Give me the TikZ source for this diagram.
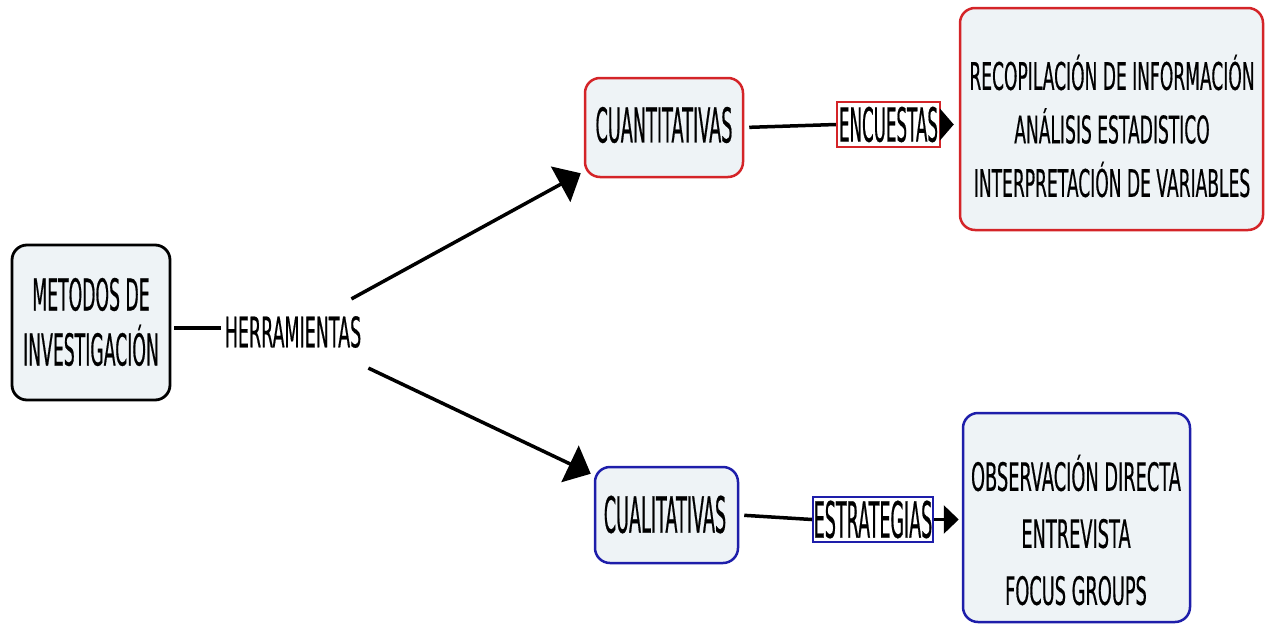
\documentclass[tikz,border=0pt]{standalone}
\usepackage{fontspec}
\setmainfont{DejaVu Sans}
\usetikzlibrary{arrows.meta}

\definecolor{boxfill}{RGB}{238,243,246}
\definecolor{mapred}{RGB}{212,36,40}
\definecolor{mapblue}{RGB}{30,30,170}

% condensed DejaVu Sans: #1 stretch, #2 size, #3 line spacing
\newcommand{\cond}[3]{\fontspec{DejaVu Sans}[FakeStretch=#1,FakeBold=0.4]\fontsize{#2}{#3}\selectfont}

\tikzset{
  box/.style={draw, rounded corners=15pt, fill=boxfill, line width=2.5pt, inner sep=0pt},
  tagbox/.style={draw, line width=2.2pt, fill=white, inner sep=0pt},
  txt/.style={align=center, inner sep=0pt},
  conn/.style={line width=3.5pt},
  bigtip/.style={-{Triangle[length=23pt,width=40pt]}},
}

\begin{document}
\begin{tikzpicture}[x=1pt,y=-1pt]
\useasboundingbox (0,0) rectangle (1265,632);

% boxes
\node[box, draw=black, line width=2.8pt, minimum width=158pt, minimum height=155pt] (metodos) at (91,322.5) {};
\node[box, draw=mapred, minimum width=158pt, minimum height=99pt] (cuanti) at (664,127.5) {};
\node[box, draw=mapblue, minimum width=143pt, minimum height=96pt] (cuali) at (666.5,515) {};
\node[box, draw=mapred, minimum width=303pt, minimum height=222pt] (rbox) at (1111.5,119) {};
\node[box, draw=mapblue, minimum width=227pt, minimum height=209pt] (bbox) at (1076.5,517.5) {};

% box texts
\node[txt, font=\cond{0.392}{44}{55}] (metodostxt) at (91,322) {METODOS DE\\INVESTIGACIÓN};
\node[txt, font=\cond{0.368}{48}{54}] (cuantitxt) at (664,125) {CUANTITATIVAS};
\node[txt, font=\cond{0.352}{50}{54}] (cualitxt) at (665,514.5) {CUALITATIVAS};
\node[txt, font=\cond{0.45}{38}{53.5}] (rtxt) at (1112,126)
  {RECOPILACIÓN DE INFORMACIÓN\\ANÁLISIS ESTADISTICO\\INTERPRETACIÓN DE VARIABLES};
\node[txt, font=\cond{0.456}{39}{57}] (btxt) at (1076,530)
  {OBSERVACIÓN DIRECTA\\ENTREVISTA\\FOCUS GROUPS};

% linking words
\node[txt, font=\cond{0.416}{42}{50}] (herr) at (293,332) {HERRAMIENTAS};
\node[tagbox, draw=mapred, minimum width=103pt, minimum height=45pt,
      font=\cond{0.355}{47}{50}] (encuestas) at (888.5,124.5) {ENCUESTAS};
\node[tagbox, draw=mapblue, minimum width=120pt, minimum height=45pt,
      font=\cond{0.35}{50}{50}] (estrategias) at (873,519.5) {ESTRATEGIAS};

% connectors
\draw[conn, shorten <=3pt, shorten >=4pt] (metodos.east |- 0,328) -- (herr.west |- 0,328);
\draw[conn, bigtip] ([shift={(-10,-17)}]herr.north east) -- ([shift={(-3,-5)}]cuanti.south west);
\draw[conn, bigtip] ([shift={(7,20)}]herr.south east) -- ([shift={(-3,8)}]cuali.north west);

\draw[conn, shorten <=5pt] (cuanti.east) -- (encuestas.west);
\draw[line width=2pt, -{Triangle[length=14pt,width=32pt]}, shorten >=5pt]
  (encuestas.east) -- (rbox.west |- encuestas.east);

\draw[conn, shorten <=5pt] (cuali.east) -- (estrategias.west);
\draw[line width=3pt, -{Triangle[length=15pt,width=28pt]}, shorten >=3pt]
  (estrategias.east) -- (bbox.west |- estrategias.east);
\end{tikzpicture}
\end{document}
